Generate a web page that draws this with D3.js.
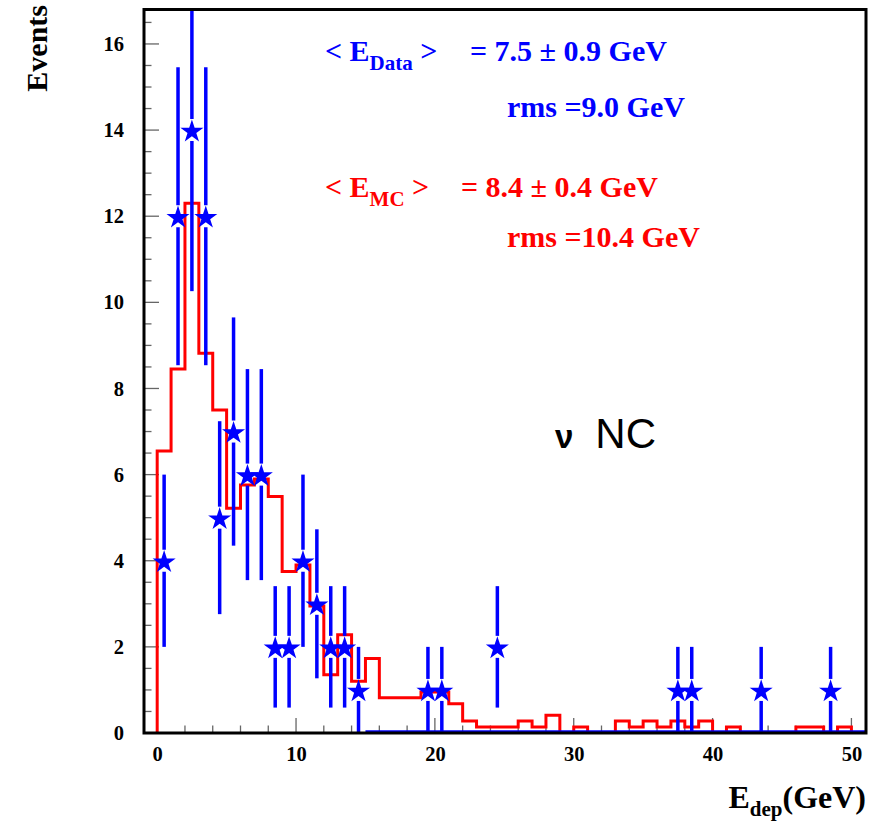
<!DOCTYPE html>
<html>
<head>
<meta charset="utf-8">
<script src="https://cdn.jsdelivr.net/npm/d3@7"></script>
<style>
  html, body { margin: 0; padding: 0; background: #fff; }
  svg { display: block; }
  text { font-family: "Liberation Serif", "Times New Roman", serif; font-weight: bold; }
</style>
</head>
<body>
<svg id="chart" width="875" height="821"></svg>
<script>
// Monte Carlo prediction, 1 GeV bins from 0 to 50 GeV
const mcBinEdges = d3.range(0, 51);
const mcCounts = [6.55, 8.45, 12.3, 8.82, 7.5, 5.22, 5.76, 5.9, 5.49, 3.75,
                  3.9, 2.95, 1.35, 2.28, 1.2, 1.73, 0.82, 0.82, 0.82, 0.95,
                  0.95, 0.68, 0.28, 0.14, 0.14, 0.14, 0.28, 0.14, 0.41, 0,
                  0.14, 0, 0, 0.28, 0.14, 0.28, 0.14, 0.28, 0.14, 0.28,
                  0, 0.14, 0, 0, 0, 0, 0.14, 0.14, 0, 0.14];

// Data: bin centres, event counts and their statistical errors
const dataX = [0.5, 1.5, 2.5, 3.5, 4.5, 5.5, 6.5, 7.5, 8.5, 9.5, 10.5, 11.5,
               12.5, 13.5, 14.5, 19.5, 20.5, 24.5, 37.5, 38.5, 43.5, 48.5];
const dataN = [4, 12, 14, 12, 5, 7, 6, 6, 2, 2, 4, 3, 2, 2, 1, 1, 1, 2, 1, 1, 1, 1];
const dataErr = [2, 3.46, 3.74, 3.46, 2.24, 2.65, 2.45, 2.45, 1.41, 1.41, 2, 1.73,
                 1.41, 1.41, 1, 1, 1, 1.41, 1, 1, 1, 1];

const xTicks = [0, 10, 20, 30, 40, 50];
const yTicks = [0, 2, 4, 6, 8, 10, 12, 14, 16];

const BLUE = "#0000ff", RED = "#ff0000";

const frame = { left: 144, right: 866, top: 9.5, bottom: 733 };
const x = d3.scaleLinear().domain([-0.95, 51.05]).range([frame.left, frame.right]);
const y = d3.scaleLinear().domain([0, 16.8]).range([frame.bottom, frame.top]);

const svg = d3.select("#chart");

svg.append("defs").append("clipPath").attr("id", "plotClip")
  .append("rect")
  .attr("x", frame.left).attr("y", frame.top)
  .attr("width", frame.right - frame.left).attr("height", frame.bottom - frame.top);

// inner tick marks
const ticksG = svg.append("g").attr("stroke", "#666").attr("stroke-width", 1.3);
d3.range(0, 16.81, 0.5).forEach(v => {
  const major = Math.abs(v / 2 - Math.round(v / 2)) < 1e-6;
  ticksG.append("line")
    .attr("x1", x(-0.95)).attr("x2", x(-0.95) + (major ? 15 : 7.5))
    .attr("y1", y(v)).attr("y2", y(v));
});
d3.range(0, 51, 2).forEach(v => {
  const major = v % 10 === 0;
  ticksG.append("line")
    .attr("x1", x(v)).attr("x2", x(v))
    .attr("y1", y(0)).attr("y2", y(0) - (major ? 15 : 7.5));
});

// tick labels from the axis generators
const yAxis = svg.append("g")
  .attr("transform", `translate(${frame.left},0)`)
  .call(d3.axisLeft(y).tickValues(yTicks).tickSize(0).tickPadding(20).tickFormat(d3.format("d")));
const xAxis = svg.append("g")
  .attr("transform", `translate(0,${frame.bottom})`)
  .call(d3.axisBottom(x).tickValues(xTicks).tickSize(0).tickPadding(13).tickFormat(d3.format("d")));
[yAxis, xAxis].forEach(a => {
  a.select(".domain").remove();
  a.selectAll("text")
    .attr("fill", "#000")
    .style("font-family", '"Liberation Serif", serif')
    .style("font-weight", "bold")
    .style("font-size", "20.5px");
});

const plot = svg.append("g").attr("clip-path", "url(#plotClip)");

// MC histogram outline
const mcPoints = [[0, 0]].concat(mcCounts.map((c, i) => [mcBinEdges[i], c]), [[50, 0]]);
plot.append("path")
  .datum(mcPoints)
  .attr("fill", "none")
  .attr("stroke", RED)
  .attr("stroke-width", 3)
  .attr("d", d3.line().x(d => x(d[0])).y(d => y(d[1])).curve(d3.curveStepAfter));

// empty data bins drawn along zero
plot.append("line")
  .attr("x1", x(15)).attr("x2", x(51.05))
  .attr("y1", y(0) - 1.5).attr("y2", y(0) - 1.5)
  .attr("stroke", BLUE).attr("stroke-width", 2.5);

// data error bars (leaving room for the marker) and star markers
const markR = 11;
const dataG = plot.append("g");
dataX.forEach((xv, i) => {
  const cx = x(xv), cy = y(dataN[i]);
  const yTop = y(dataN[i] + dataErr[i]);
  const yBot = y(Math.max(0, dataN[i] - dataErr[i]));
  if (yTop < cy - markR)
    dataG.append("line").attr("x1", cx).attr("x2", cx).attr("y1", yTop).attr("y2", cy - markR)
      .attr("stroke", BLUE).attr("stroke-width", 3.5);
  if (yBot > cy + markR)
    dataG.append("line").attr("x1", cx).attr("x2", cx).attr("y1", cy + markR).attr("y2", yBot)
      .attr("stroke", BLUE).attr("stroke-width", 3.5);
});
dataG.selectAll("path.star")
  .data(dataX.map((xv, i) => [xv, dataN[i]]))
  .join("path")
  .attr("class", "star")
  .attr("transform", d => `translate(${x(d[0])},${y(d[1]) + 1.5})`)
  .attr("d", d3.symbol().type(d3.symbolStar).size(165))
  .attr("fill", BLUE);

// frame
svg.append("rect")
  .attr("x", frame.left).attr("y", frame.top)
  .attr("width", frame.right - frame.left).attr("height", frame.bottom - frame.top)
  .attr("fill", "none").attr("stroke", "#000").attr("stroke-width", 3);

// axis titles
svg.append("text")
  .attr("transform", "translate(47,5) rotate(-90)")
  .attr("text-anchor", "end")
  .style("font-size", "30px")
  .text("Events");

const xt = svg.append("text")
  .attr("x", 866).attr("y", 808)
  .attr("text-anchor", "end")
  .style("font-size", "32px");
xt.append("tspan").text("E");
xt.append("tspan").attr("dy", 8).style("font-size", "21px").text("dep");
xt.append("tspan").attr("dy", -8).text("(GeV)");

// mean / rms annotations
function meanLabel(color, sub, baseline, valueX, valueText) {
  const g = svg.append("g").attr("fill", color);
  const t = g.append("text").attr("x", 325).attr("y", baseline).style("font-size", "30px");
  t.append("tspan").text("< E");
  t.append("tspan").attr("dy", 9).style("font-size", "21px").text(sub);
  t.append("tspan").attr("dy", -9).text(" >");
  g.append("text").attr("x", valueX).attr("y", baseline).style("font-size", "30px").text(valueText);
}
meanLabel(BLUE, "Data", 61, 470, "= 7.5 \u00b1 0.9 GeV");
svg.append("text").attr("x", 507).attr("y", 117).attr("fill", BLUE)
  .style("font-size", "30px").text("rms =9.0 GeV");
meanLabel(RED, "MC", 197, 461, "= 8.4 \u00b1 0.4 GeV");
svg.append("text").attr("x", 507).attr("y", 247).attr("fill", RED)
  .style("font-size", "30px").text("rms =10.4 GeV");

// process label
const nc = svg.append("text").attr("x", 555).attr("y", 448)
  .style("font-family", '"Liberation Sans", Arial, sans-serif')
  .style("font-weight", "normal")
  .attr("fill", "#000");
nc.append("tspan").style("font-size", "33px").style("font-weight", "bold").text("\u03bd");
nc.append("tspan").attr("dx", 22).style("font-size", "42px").text("NC");
</script>
</body>
</html>
